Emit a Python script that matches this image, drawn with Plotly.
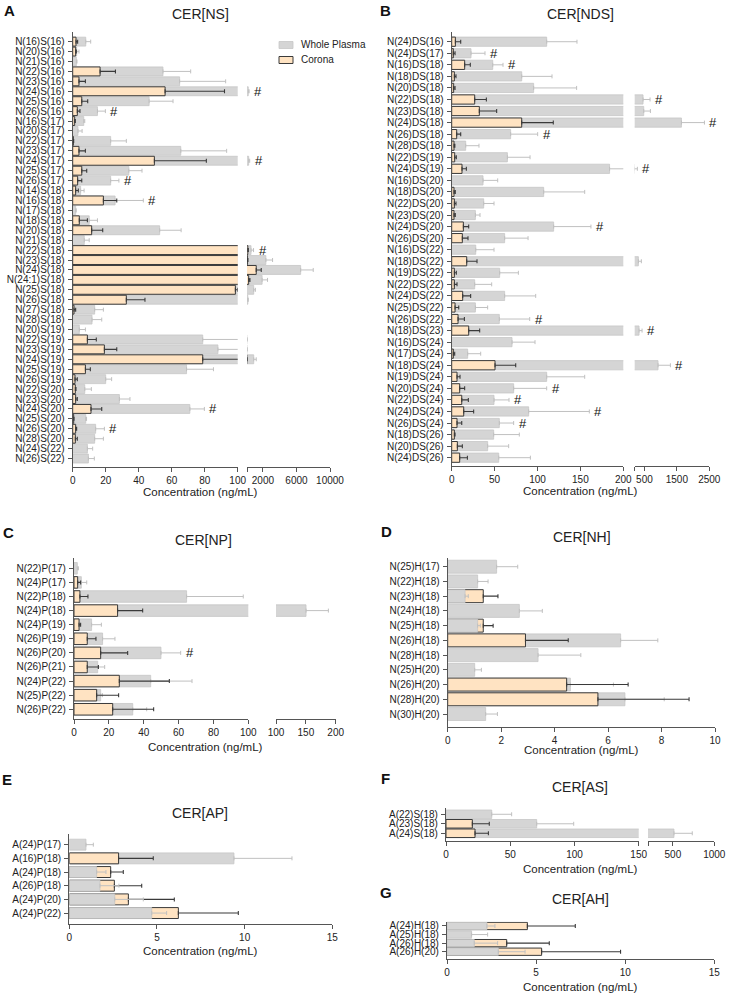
import plotly.graph_objects as go

W, H = 730, 998

# ---------------- DATA ----------------
# Panel A  CER[NS]
ns_labels = ["N(16)S(16)", "N(20)S(16)", "N(21)S(16)", "N(22)S(16)", "N(23)S(16)", "N(24)S(16)",
             "N(25)S(16)", "N(26)S(16)", "N(16)S(17)", "N(20)S(17)", "N(22)S(17)", "N(23)S(17)",
             "N(24)S(17)", "N(25)S(17)", "N(26)S(17)", "N(14)S(18)", "N(16)S(18)", "N(17)S(18)",
             "N(18)S(18)", "N(20)S(18)", "N(21)S(18)", "N(22)S(18)", "N(23)S(18)", "N(24)S(18)",
             "N(24:1)S(18)", "N(25)S(18)", "N(26)S(18)", "N(27)S(18)", "N(28)S(18)", "N(20)S(19)",
             "N(22)S(19)", "N(23)S(19)", "N(24)S(19)", "N(25)S(19)", "N(26)S(19)", "N(22)S(20)",
             "N(23)S(20)", "N(24)S(20)", "N(25)S(20)", "N(26)S(20)", "N(28)S(20)", "N(24)S(22)",
             "N(26)S(22)"]
ns_plasma = [7.9, 2.4, 2.2, 54.7, 64.8, 250, 46.3, 15.0, 6.7, 3.2, 23.0, 65.5, 300, 34.0, 23.0,
             4.8, 25.7, 1.8, 10.0, 52.7, 7.0, 580, 2350, 6500, 1900, 900, 200, 13.3, 11.7, 4.0,
             78.8, 88.0, 900, 69.0, 20.0, 7.3, 28.3, 71.0, 7.9, 13.9, 13.3, 8.9, 9.5]
ns_plasma_err = [3.0, 1.4, 0.4, 16.8, 27.9, 100, 14.5, 4.8, 0.6, 2.5, 9.5, 27.8, 120, 8.0, 5.0,
                 2.1, 17.1, 0.3, 5.0, 13.0, 3.0, 300, 800, 1500, 650, 200, 40, 5.3, 5.9, 3.7,
                 40, 30, 300, 16.3, 3.6, 4.0, 6.4, 8.8, 0.5, 5.3, 5.3, 3.2, 3.6]
ns_corona = [2.0, 1.8, None, 16.6, 3.8, 56.0, 5.5, 2.8, 1.2, None, 0.4, 3.8, 49.5, 5.5, 3.0,
             1.8, 18.6, None, 4.0, 11.5, None, 200, 170, 1200, 300, 98.6, 32.5, 0.8, None, None,
             8.9, 19.2, 78.8, 7.7, 1.4, 1.6, 1.8, 11.1, 0.6, 1.8, 1.6, None, None]
ns_corona_err = [1.0, 0.4, None, 9.3, 3.9, 36.0, 3.6, 1.6, 0.4, None, 0.2, 3.9, 31.5, 3.0, 2.5,
                 1.6, 8.1, None, 4.9, 6.7, None, 60, 40, 600, 150, 1.4, 11.3, 1.0, None, None,
                 5.4, 7.5, 40, 3.0, 1.4, 0.4, 1.0, 6.5, 0.2, 0.6, 1.2, None, None]
ns_hash = ["N(24)S(16)", "N(26)S(16)", "N(24)S(17)", "N(26)S(17)", "N(16)S(18)", "N(22)S(18)",
           "N(24)S(20)", "N(26)S(20)"]

# Panel B  CER[NDS]
nds_labels = ["N(24)DS(16)", "N(24)DS(17)", "N(16)DS(18)", "N(18)DS(18)", "N(20)DS(18)", "N(22)DS(18)",
              "N(23)DS(18)", "N(24)DS(18)", "N(26)DS(18)", "N(28)DS(18)", "N(22)DS(19)", "N(24)DS(19)",
              "N(16)DS(20)", "N(18)DS(20)", "N(22)DS(20)", "N(23)DS(20)", "N(24)DS(20)", "N(26)DS(20)",
              "N(16)DS(22)", "N(18)DS(22)", "N(19)DS(22)", "N(22)DS(22)", "N(24)DS(22)", "N(25)DS(22)",
              "N(26)DS(22)", "N(18)DS(23)", "N(16)DS(24)", "N(17)DS(24)", "N(18)DS(24)", "N(19)DS(24)",
              "N(20)DS(24)", "N(22)DS(24)", "N(24)DS(24)", "N(26)DS(24)", "N(18)DS(26)", "N(20)DS(26)",
              "N(24)DS(26)"]
nds_plasma = [110.7, 22.5, 47.8, 81.6, 95.5, 457, 478, 1640, 68.7, 16.3, 64.9, 184, 36.5, 107.2,
              37.3, 27.6, 118.8, 61.7, 28.0, 313, 55.9, 26.8, 61.7, 27.6, 55.5, 334, 70.3, 18.6,
              919, 110.7, 72.2, 49.3, 89.7, 55.5, 48.9, 41.9, 54.8]
nds_plasma_err = [35.3, 16.3, 12.0, 35.3, 50.1, 216, 206, 710, 31.5, 15.5, 26.4, 98, 17.1, 47.8,
                  12.0, 5.4, 43.5, 27.3, 21.3, 92, 21.8, 19.8, 36.2, 14.3, 35.4, 93, 26.8, 15.2,
                  381, 44.3, 38.5, 17.5, 70.7, 16.7, 29.9, 24.5, 36.9]
nds_corona = [4.3, 1.9, 15.1, 3.1, 2.3, 26.8, 32.2, 81.6, 5.8, 2.7, 3.5, 12.0, None, 2.7, 3.1, 2.7,
              13.6, 12.4, None, 17.5, 3.1, 3.1, 12.8, 3.9, 7.4, 19.8, None, 1.9, 50.5, 6.2, 9.3,
              11.7, 14.0, 6.2, 3.1, 6.6, 9.3]
nds_corona_err = [6.2, 2.0, 6.6, 1.9, 1.6, 13.6, 20.2, 36.8, 4.7, 1.0, 1.9, 5.1, None, 1.5, 1.9, 1.5,
                  6.2, 6.6, None, 12.0, 2.3, 3.1, 9.3, 4.3, 7.4, 12.8, None, 1.6, 24.1, 3.5, 5.8,
                  7.7, 11.6, 5.5, 0.8, 5.8, 9.0]
nds_hash = ["N(24)DS(17)", "N(16)DS(18)", "N(22)DS(18)", "N(24)DS(18)", "N(26)DS(18)", "N(24)DS(19)",
            "N(24)DS(20)", "N(26)DS(22)", "N(18)DS(23)", "N(18)DS(24)", "N(20)DS(24)", "N(22)DS(24)",
            "N(24)DS(24)", "N(26)DS(24)"]

# Panel C  CER[NP]
np_labels = ["N(22)P(17)", "N(24)P(17)", "N(22)P(18)", "N(24)P(18)", "N(24)P(19)", "N(26)P(19)",
             "N(26)P(20)", "N(26)P(21)", "N(24)P(22)", "N(25)P(22)", "N(26)P(22)"]
np_plasma = [1.9, 4.2, 64.6, 150.3, 10.1, 16.4, 49.9, 13.6, 44.0, 15.3, 33.7]
np_plasma_err = [0.6, 3.1, 32.5, 37.4, 5.6, 7.1, 11.3, 4.0, 23.7, 1.0, 8.0]
np_corona = [None, 2.1, 3.4, 25.0, 2.9, 7.6, 15.3, 7.6, 26.0, 13.0, 22.2]
np_corona_err = [None, 1.7, 4.6, 14.4, 0.9, 5.0, 15.5, 6.4, 28.7, 12.6, 23.5]
np_hash = ["N(26)P(20)"]

# Panel D  CER[NH]
nh_labels = ["N(25)H(17)", "N(22)H(18)", "N(23)H(18)", "N(24)H(18)", "N(25)H(18)", "N(26)H(18)",
             "N(28)H(18)", "N(25)H(20)", "N(26)H(20)", "N(28)H(20)", "N(30)H(20)"]
nh_plasma = [1.83, 1.12, 0.65, 2.68, 1.12, 6.47, 3.38, 1.01, 4.59, 6.63, 1.42]
nh_plasma_err = [0.79, 0.39, 0.12, 0.86, 0.10, 1.39, 1.60, 0.25, 1.61, 1.47, 0.44]
nh_corona = [None, None, 1.33, None, 1.33, 2.91, None, None, 4.45, 5.62, None]
nh_corona_err = [None, None, 0.55, None, 0.37, 1.60, None, None, 2.30, 3.41, None]
nh_hash = []

# Panel E  CER[AP]
ap_labels = ["A(24)P(17)", "A(16)P(18)", "A(24)P(18)", "A(26)P(18)", "A(24)P(20)", "A(24)P(22)"]
ap_plasma = [0.95, 9.39, 1.56, 1.75, 2.59, 4.70]
ap_plasma_err = [0.42, 3.31, 0.53, 1.08, 1.63, 0.85]
ap_corona = [None, 2.81, 2.36, 2.57, 3.37, 6.22]
ap_corona_err = [None, 1.98, 0.72, 1.56, 2.62, 3.42]
ap_hash = []

# Panel F  CER[AS]
as_labels = ["A(22)S(18)", "A(23)S(18)", "A(24)S(18)"]
as_plasma = [35.6, 70.6, 513]
as_plasma_err = [15.5, 28.8, 221]
as_corona = [None, 20.5, 22.6]
as_corona_err = [None, 13.2, 10.4]
as_hash = []

# Panel G  CER[AH]
ah_labels = ["A(24)H(18)", "A(25)H(18)", "A(26)H(18)", "A(26)H(20)"]
ah_plasma = [2.24, 1.38, 1.53, 2.88]
ah_plasma_err = [0.45, 0.90, 1.31, 1.50]
ah_corona = [4.51, None, 3.35, 5.31]
ah_corona_err = [2.69, None, 2.39, 4.43]
ah_hash = []

# Tick labels for the axis segments
ticks_a = [([0, 20, 40, 60, 80, 100], ["0", "20", "40", "60", "80", "100"]),
           ([100, 2000, 6000, 10000], ["", "2000", "6000", "10000"])]
ticks_b = [([0, 50, 100, 150, 200], ["0", "50", "100", "150", "200"]),
           ([200, 500, 1500, 2500], ["", "500", "1500", "2500"])]
ticks_c = [([0, 20, 40, 60, 80, 100], ["0", "20", "40", "60", "80", "100"]),
           ([100, 150, 200], ["100", "150", "200"])]
ticks_d = [([0, 2, 4, 6, 8, 10], ["0", "2", "4", "6", "8", "10"])]
ticks_e = [([0, 5, 10, 15], ["0", "5", "10", "15"])]
ticks_f = [([0, 50, 100, 150], ["0", "50", "100", "150"]),
           ([200, 500, 1000], ["", "500", "1000"])]
ticks_g = [([0, 5, 10, 15], ["0", "5", "10", "15"])]

# ---------------- STYLE ----------------
FONT = "Liberation Sans, Arial, sans-serif"
GRAY = "#d5d5d5"
GRAY_EDGE = "#c6c6c6"
GRAY_ERR = "#c0c0c0"
ORANGE = "#ffe3c2"
DARK = "#3a3a3a"
AXC = "#555555"


def px_x(p):
    return p / W


def px_y(p):
    return 1 - p / H


fig = go.Figure()
layout = {}
annotations = []
counter = {"x": 0, "y": 0}


def axname(prefix, i):
    return prefix + ("" if i == 1 else str(i))


def visible_from(vals, errs, start):
    """Keep only the rows whose bar or error bar reaches into a segment starting at `start`."""
    v_out, e_out = [], []
    for v, e in zip(vals, errs):
        if v is not None and v + (e or 0) > start:
            v_out.append(v)
            e_out.append(e)
        else:
            v_out.append(None)
            e_out.append(None)
    return v_out, e_out


def add_panel(labels, pv, pe, cv, ce, hashes, ticks, segs, ytop, ybot, pad_top, pad_bot, bar_w):
    counter["y"] += 1
    yid = counter["y"]
    n = len(labels)
    back = [p if (p is not None and (c is None or p >= c)) else None for p, c in zip(pv, cv)]
    back_e = [e if b is not None else None for e, b in zip(pe, back)]
    front = [p if (p is not None and c is not None and p < c) else None for p, c in zip(pv, cv)]
    front_e = [e if f is not None else None for e, f in zip(pe, front)]
    zeros = [0] * n
    xids = []
    for (x0, x1, rng), (tv, tt) in zip(segs, ticks):
        counter["x"] += 1
        xid = counter["x"]
        xids.append((xid, rng))
        xa, ya = axname("x", xid), axname("y", yid)
        start = rng[0]
        b_v, b_e = visible_from(back, back_e, start)
        f_v, f_e = visible_from(front, front_e, start)
        c_v, c_e = visible_from(cv, ce, start)

        def gray_trace(vals, errs):
            return go.Bar(x=vals, y=labels, orientation="h", width=bar_w, base=0,
                          marker=dict(color=GRAY, line=dict(color=GRAY_EDGE, width=0.8)),
                          error_x=dict(type="data", array=errs, arrayminus=zeros, symmetric=False,
                                       color=GRAY_ERR, thickness=1, width=2),
                          xaxis=xa, yaxis=ya, showlegend=False, hoverinfo="skip")

        fig.add_trace(gray_trace(b_v, b_e))
        fig.add_trace(go.Bar(x=c_v, y=labels, orientation="h", width=bar_w, base=0,
                             marker=dict(color=ORANGE, line=dict(color=DARK, width=1)),
                             error_x=dict(type="data", array=c_e, arrayminus=zeros, symmetric=False,
                                          color=DARK, thickness=1.1, width=2),
                             xaxis=xa, yaxis=ya, showlegend=False, hoverinfo="skip"))
        fig.add_trace(gray_trace(f_v, f_e))
        layout["xaxis" + ("" if xid == 1 else str(xid))] = dict(
            domain=[px_x(x0), px_x(x1)], anchor=ya, range=rng, tickmode="array",
            tickvals=tv, ticktext=tt, automargin=False,
            showline=True, linecolor=AXC, linewidth=1.2, ticks="outside", ticklen=4,
            tickwidth=1.1, tickcolor=AXC, tickfont=dict(size=10, color="#222", family=FONT),
            showgrid=False, zeroline=False, fixedrange=True)
    layout["yaxis" + ("" if yid == 1 else str(yid))] = dict(
        domain=[px_y(ybot), px_y(ytop)], anchor=axname("x", xids[0][0]), type="category",
        categoryorder="array", categoryarray=labels, range=[n - 1 + pad_bot, -pad_top],
        tickmode="array", tickvals=labels, ticktext=labels, automargin=False,
        ticklabelstandoff=1,
        showline=True, linecolor=AXC, linewidth=1.2, ticks="outside", ticklen=4, tickwidth=1.1,
        tickcolor=AXC, tickfont=dict(size=10, color="#222", family=FONT), showgrid=False,
        zeroline=False, fixedrange=True)
    # significance marks
    for lab in hashes:
        i = labels.index(lab)
        ends = [v + (e or 0) for v, e in ((pv[i], pe[i]), (cv[i], ce[i])) if v is not None]
        xend = max(ends)
        xid = xids[0][0]
        if len(xids) > 1 and xend > xids[0][1][1]:
            xid = xids[1][0]
        annotations.append(dict(x=xend, y=i, xref=axname("x", xid), yref=axname("y", yid),
                                text="#", showarrow=False, xanchor="left", yanchor="middle",
                                xshift=3, font=dict(size=13, color="#111", family=FONT)))


add_panel(ns_labels, ns_plasma, ns_plasma_err, ns_corona, ns_corona_err, ns_hash, ticks_a,
          [(72.7, 237.7, [0, 100]), (247, 330, [100, 10000])], 32.3, 466.7, 0.94, 0.82, 0.9)
add_panel(nds_labels, nds_plasma, nds_plasma_err, nds_corona, nds_corona_err, nds_hash, ticks_b,
          [(451.7, 623.3, [0, 200]), (634.7, 709.3, [200, 2500])], 32, 466, 0.84, 0.72, 0.8)
add_panel(np_labels, np_plasma, np_plasma_err, np_corona, np_corona_err, np_hash, ticks_c,
          [(74, 248.3, [0, 100]), (276, 335.7, [100, 200])], 558.3, 719, 0.71, 0.69, 0.82)
add_panel(nh_labels, nh_plasma, nh_plasma_err, nh_corona, nh_corona_err, nh_hash, ticks_d,
          [(447.7, 715, [0, 10])], 558.3, 726.7, 0.57, 0.86, 0.88)
add_panel(ap_labels, ap_plasma, ap_plasma_err, ap_corona, ap_corona_err, ap_hash, ticks_e,
          [(69.3, 332.3, [0, 15])], 834, 924, 0.78, 0.8, 0.8)
add_panel(as_labels, as_plasma, as_plasma_err, as_corona, as_corona_err, as_hash, ticks_f,
          [(446, 638.7, [0, 150]), (648, 714.3, [200, 1000])], 808, 840.7, 0.66, 0.78, 0.9)
add_panel(ah_labels, ah_plasma, ah_plasma_err, ah_corona, ah_corona_err, ah_hash, ticks_g,
          [(447, 714.3, [0, 15])], 921.7, 959, 0.5, 0.85, 0.85)


def text_at(x, y, txt, size, bold=False, anchor="center"):
    annotations.append(dict(x=px_x(x), y=px_y(y), xref="paper", yref="paper", text=txt,
                            showarrow=False, xanchor=anchor, yanchor="middle",
                            font=dict(size=size, color="#111" if bold else "#222", family=FONT)))


# panel letters
for letter, x, y in [("A", 9, 10), ("B", 385, 10), ("C", 8, 532), ("D", 386, 531),
                     ("E", 7, 779), ("F", 385, 778), ("G", 386, 892)]:
    text_at(x, y, "<b>" + letter + "</b>", 15, bold=True)

# panel titles
for title, x, y in [("CER[NS]", 200, 14), ("CER[NDS]", 580, 14), ("CER[NP]", 203, 540),
                    ("CER[NH]", 582, 537), ("CER[AP]", 200, 813), ("CER[AS]", 580, 787),
                    ("CER[AH]", 580, 899)]:
    text_at(x, y, title, 14)

# axis titles
for x, y in [(200, 492), (580, 491), (205, 747), (581, 750), (201, 951), (580, 869), (580, 987)]:
    text_at(x, y, "Concentration (ng/mL)", 11.5)

# legend
shapes = [
    dict(type="rect", xref="paper", yref="paper", x0=px_x(279), x1=px_x(293), y0=px_y(48.5),
         y1=px_y(41.5), fillcolor=GRAY, line=dict(color=GRAY_EDGE, width=0.8)),
    dict(type="rect", xref="paper", yref="paper", x0=px_x(279), x1=px_x(293), y0=px_y(63.5),
         y1=px_y(56.5), fillcolor=ORANGE, line=dict(color=DARK, width=1)),
]
text_at(299, 45, "Whole Plasma", 10, anchor="left")
text_at(299, 60, "Corona", 10, anchor="left")

layout.update(dict(
    width=W, height=H, margin=dict(l=0, r=0, t=0, b=0, autoexpand=False), barmode="overlay",
    paper_bgcolor="white", plot_bgcolor="white", showlegend=False, template="none",
    annotations=annotations, shapes=shapes, font=dict(family=FONT, color="#222"),
))
fig.update_layout(**layout)
fig.write_html("out.html", config={"displayModeBar": False},
               post_script="document.body.style.margin='0';document.body.style.overflow='hidden';")
